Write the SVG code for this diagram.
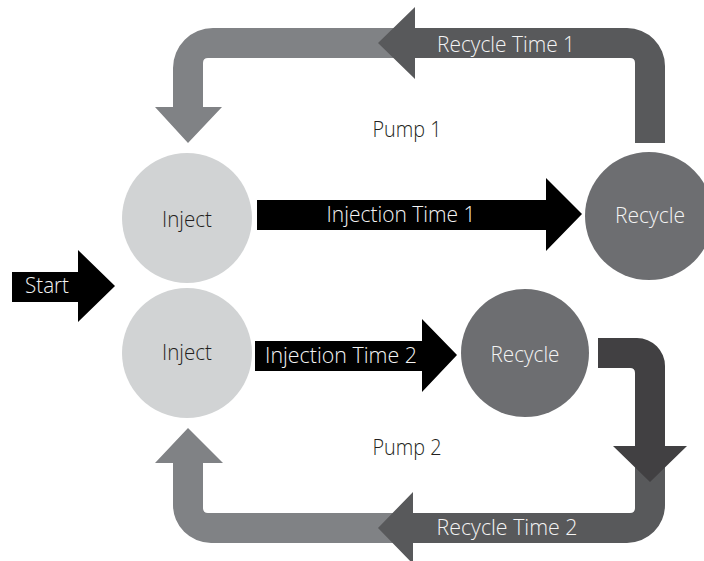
<svg xmlns="http://www.w3.org/2000/svg" width="704" height="561" viewBox="0 0 704 561">
<style>
text{font-family:"Open Sans","Noto Sans","Liberation Sans",sans-serif;font-size:22px;font-weight:300;text-anchor:middle}
.w{fill:#f4f4f4}
.k{fill:#231f20}
.light{fill:#808285}
.dark{fill:#58595b}
.darkest{fill:#414042}
.black{fill:#000000}
.inj{fill:#d1d3d4}
.rec{fill:#6d6e71}
</style>
<rect width="704" height="561" fill="#ffffff"/>
<g id="connectors">
  <g id="loop1">
    <path class="light" d="M400 28 L213 28 A40 40 0 0 0 173 68 L173 107 L155 107 L188 143 L222 107 L203 107 L203 63 Q203 58 208 58 L400 58 Z"/>
    <path class="dark" d="M415 7 L378 43 L415 79 L415 58 L630 58 Q635 58 635 63 L635 143 L665 143 L665 66 A38 38 0 0 0 627 28 L415 28 Z"/>
    <text class="w" x="506" y="52" textLength="138" lengthAdjust="spacingAndGlyphs">Recycle Time 1</text>
  </g>
  <g id="loop2">
    <path class="light" d="M400 513 L208 513 Q203 513 203 508 L203 463 L223 463 L188 428 L155 463 L173 463 L173 505 A38 38 0 0 0 211 543 L400 543 Z"/>
    <path class="dark" d="M635 440 L665 440 L665 505 A38 38 0 0 1 627 543 L413 543 L413 564 L378 528 L413 492 L413 513 L630 513 Q635 513 635 508 Z"/>
    <path class="darkest" d="M598 338 L637 338 A28 28 0 0 1 665 366 L665 446 L687 446 L650 482 L613 446 L635 446 L635 373 Q635 368 630 368 L598 368 Z"/>
    <text class="w" x="507" y="535" textLength="141" lengthAdjust="spacingAndGlyphs">Recycle Time 2</text>
  </g>
  <g id="start-arrow">
    <path class="black" d="M12 272 L78 272 L78 250 L115 286 L78 322 L78 302 L12 302 Z"/>
    <text class="w" x="47" y="293" textLength="44" lengthAdjust="spacingAndGlyphs">Start</text>
  </g>
  <g id="injection1">
    <path class="black" d="M257 200 L546 200 L546 178 L582 214 L546 251 L546 230 L257 230 Z"/>
    <text class="w" x="401" y="222" textLength="149" lengthAdjust="spacingAndGlyphs">Injection Time 1</text>
  </g>
  <g id="injection2">
    <path class="black" d="M255 341 L422 341 L422 319 L457 355 L422 392 L422 371 L255 371 Z"/>
    <text class="w" x="341" y="363" textLength="152" lengthAdjust="spacingAndGlyphs">Injection Time 2</text>
  </g>
</g>
<g id="inject1">
  <circle class="inj" cx="187" cy="218" r="65"/>
  <text class="k" x="187" y="227" textLength="50" lengthAdjust="spacingAndGlyphs">Inject</text>
</g>
<g id="inject2">
  <circle class="inj" cx="187" cy="353" r="65"/>
  <text class="k" x="187" y="360" textLength="50" lengthAdjust="spacingAndGlyphs">Inject</text>
</g>
<g id="recycle1">
  <circle class="rec" cx="649" cy="216" r="64"/>
  <text class="w" x="650" y="223" textLength="70" lengthAdjust="spacingAndGlyphs">Recycle</text>
</g>
<g id="recycle2">
  <circle class="rec" cx="525" cy="353" r="64"/>
  <text class="w" x="525" y="362" textLength="69" lengthAdjust="spacingAndGlyphs">Recycle</text>
</g>
<g id="pump1">
  <text class="k" x="407" y="137" textLength="69" lengthAdjust="spacingAndGlyphs">Pump 1</text>
</g>
<g id="pump2">
  <text class="k" x="407" y="455" textLength="69" lengthAdjust="spacingAndGlyphs">Pump 2</text>
</g>
</svg>
